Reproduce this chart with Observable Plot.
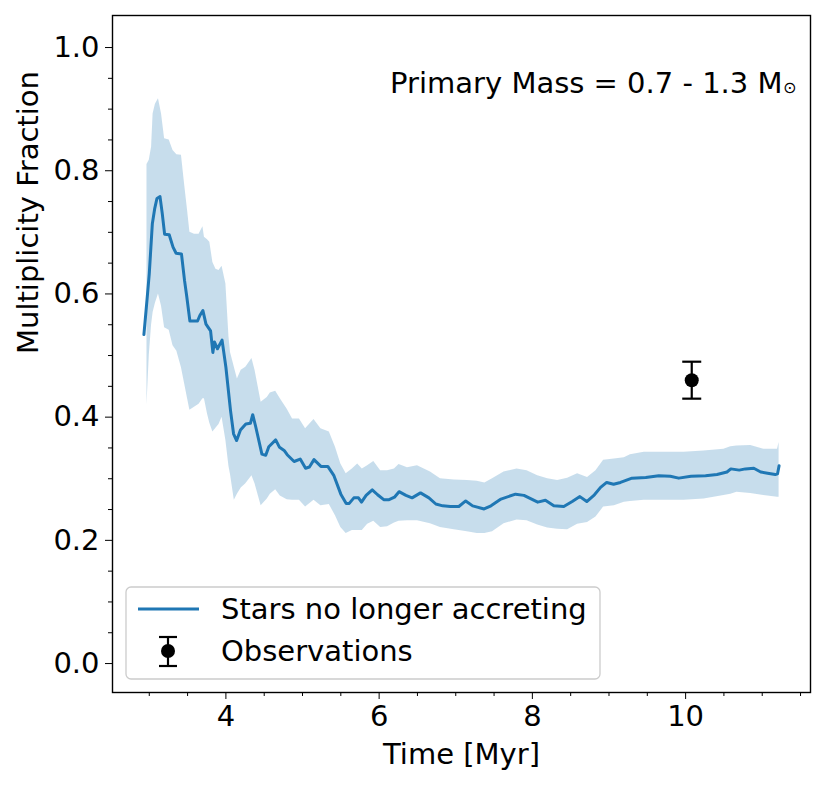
<!DOCTYPE html>
<html>
<head>
<meta charset="utf-8">
<script src="https://cdn.jsdelivr.net/npm/d3@7"></script>
<script src="https://cdn.jsdelivr.net/npm/@observablehq/plot@0.6"></script>
<style>
  html, body { margin: 0; padding: 0; background: #fff; }
  #chart { width: 824px; height: 788px; }
</style>
</head>
<body>
<div id="chart"></div>
<script>
// ---- Data ----
const times = [2.93,2.97,3.00,3.04,3.07,3.10,3.14,3.17,3.20,3.26,3.31,3.35,3.42,3.46,3.49,3.53,3.63,3.66,3.70,3.74,3.80,3.83,3.85,3.89,3.95,4.00,4.06,4.10,4.14,4.19,4.26,4.32,4.35,4.39,4.47,4.52,4.56,4.65,4.70,4.76,4.80,4.89,4.97,5.04,5.09,5.15,5.24,5.33,5.41,5.50,5.57,5.61,5.67,5.73,5.77,5.83,5.91,5.98,6.06,6.13,6.20,6.26,6.35,6.43,6.54,6.65,6.74,6.83,6.93,7.04,7.13,7.22,7.37,7.46,7.59,7.78,7.89,8.07,8.17,8.28,8.41,8.52,8.62,8.71,8.81,8.89,8.97,9.06,9.15,9.30,9.48,9.65,9.80,9.91,10.07,10.26,10.41,10.54,10.59,10.70,10.78,10.89,10.98,11.07,11.17,11.20,11.22];
const meanFraction = [0.534,0.59,0.633,0.714,0.738,0.755,0.758,0.73,0.697,0.696,0.676,0.666,0.665,0.622,0.595,0.556,0.556,0.565,0.573,0.551,0.54,0.505,0.522,0.511,0.525,0.481,0.411,0.373,0.362,0.379,0.389,0.390,0.404,0.384,0.340,0.338,0.352,0.363,0.351,0.346,0.339,0.328,0.332,0.317,0.319,0.331,0.320,0.320,0.305,0.275,0.260,0.260,0.269,0.269,0.262,0.273,0.282,0.274,0.266,0.266,0.270,0.279,0.273,0.269,0.277,0.269,0.259,0.256,0.255,0.255,0.264,0.256,0.251,0.256,0.267,0.275,0.273,0.262,0.265,0.256,0.255,0.263,0.271,0.263,0.274,0.286,0.294,0.291,0.294,0.301,0.302,0.305,0.304,0.301,0.304,0.305,0.307,0.311,0.316,0.314,0.316,0.317,0.311,0.309,0.307,0.308,0.321];

const bandTimes = [2.97,3.00,3.03,3.05,3.08,3.12,3.16,3.20,3.26,3.31,3.36,3.42,3.46,3.50,3.53,3.59,3.65,3.70,3.72,3.76,3.79,3.83,3.87,3.91,3.95,4.00,4.04,4.06,4.11,4.15,4.20,4.26,4.34,4.38,4.46,4.54,4.58,4.65,4.71,4.80,4.87,4.96,5.04,5.15,5.24,5.35,5.43,5.50,5.57,5.65,5.72,5.78,5.85,5.93,6.02,6.11,6.20,6.26,6.37,6.50,6.67,6.80,6.98,7.15,7.28,7.38,7.48,7.63,7.80,7.93,8.07,8.20,8.33,8.46,8.59,8.72,8.83,8.93,9.07,9.20,9.28,9.46,9.72,9.98,10.24,10.50,10.59,10.67,10.85,11.02,11.20,11.22];
const lowerFraction = [0.42,0.50,0.55,0.57,0.585,0.600,0.58,0.545,0.541,0.516,0.507,0.48,0.455,0.43,0.411,0.416,0.421,0.43,0.43,0.405,0.39,0.376,0.382,0.388,0.40,0.362,0.32,0.307,0.265,0.275,0.285,0.292,0.305,0.292,0.256,0.267,0.275,0.282,0.272,0.266,0.265,0.265,0.254,0.265,0.256,0.258,0.24,0.221,0.211,0.216,0.216,0.216,0.226,0.231,0.221,0.222,0.228,0.231,0.232,0.232,0.227,0.221,0.217,0.214,0.211,0.211,0.214,0.227,0.233,0.232,0.225,0.220,0.218,0.217,0.226,0.229,0.238,0.254,0.256,0.262,0.263,0.265,0.265,0.265,0.267,0.273,0.275,0.278,0.276,0.273,0.270,0.270];
const upperFraction = [0.81,0.817,0.838,0.892,0.908,0.917,0.892,0.852,0.850,0.833,0.826,0.825,0.779,0.735,0.70,0.697,0.697,0.709,0.692,0.688,0.684,0.651,0.640,0.638,0.645,0.616,0.53,0.505,0.481,0.462,0.476,0.481,0.495,0.476,0.424,0.432,0.439,0.442,0.430,0.413,0.397,0.397,0.381,0.396,0.381,0.376,0.351,0.324,0.308,0.316,0.324,0.316,0.321,0.328,0.313,0.313,0.316,0.323,0.318,0.321,0.311,0.300,0.298,0.297,0.296,0.293,0.300,0.311,0.316,0.313,0.305,0.300,0.297,0.301,0.308,0.302,0.313,0.330,0.332,0.334,0.339,0.343,0.343,0.343,0.345,0.348,0.352,0.353,0.354,0.348,0.348,0.359];

const obsTime = [10.08];
const obsValue = [0.46];
const obsErr = [0.03];

const xMajorTicks = [4, 6, 8, 10];
const xMinorTicks = [3, 3.5, 4.5, 5, 5.5, 6.5, 7, 7.5, 8.5, 9, 9.5, 10.5, 11, 11.5];
const yMajorTicks = [0, 0.2, 0.4, 0.6, 0.8, 1.0];
const yMinorTicks = [0.05, 0.1, 0.15, 0.25, 0.3, 0.35, 0.45, 0.5, 0.55, 0.65, 0.7, 0.75, 0.85, 0.9, 0.95];

const seriesLabel = "Stars no longer accreting";
const obsLabel = "Observations";
const xTitle = "Time [Myr]";
const yTitle = "Multiplicity Fraction";
const annotation = "Primary Mass = 0.7 - 1.3 M";
const annotationSub = "\u2299";

// ---- Build tables ----
const lineData = times.map((t, i) => ({t, v: meanFraction[i]}));
const bandData = bandTimes.map((t, i) => ({t, lo: lowerFraction[i], hi: upperFraction[i]}));
const obsData = obsTime.map((t, i) => ({t, v: obsValue[i], lo: obsValue[i] - obsErr[i], hi: obsValue[i] + obsErr[i]}));

const C0 = "#1f77b4";
const FONT = "DejaVu Sans, sans-serif";
const FS = 29;

// cap symbol: horizontal line
const capSymbol = {
  draw(context, size) {
    const r = Math.sqrt(size / Math.PI);
    context.moveTo(-r, 0);
    context.lineTo(r, 0);
  }
};

const chart = Plot.plot({
  width: 824,
  height: 788,
  marginLeft: 112,
  marginRight: 14,
  marginTop: 15,
  marginBottom: 96,
  style: {fontFamily: FONT, fontSize: FS + "px", color: "black", background: "white"},
  x: {domain: [2.52, 11.63], label: null},
  y: {domain: [-0.047, 1.052], label: null},
  marks: [
    Plot.areaY(bandData, {x: "t", y1: "lo", y2: "hi", fill: C0, fillOpacity: 0.25}),
    Plot.lineY(lineData, {x: "t", y: "v", stroke: C0, strokeWidth: 3}),
    Plot.ruleX(obsData, {x: "t", y1: "lo", y2: "hi", stroke: "black", strokeWidth: 2.2}),
    Plot.dot(obsData, {x: "t", y: "lo", symbol: capSymbol, r: 9.5, stroke: "black", strokeWidth: 2.2}),
    Plot.dot(obsData, {x: "t", y: "hi", symbol: capSymbol, r: 9.5, stroke: "black", strokeWidth: 2.2}),
    Plot.dot(obsData, {x: "t", y: "v", r: 7, fill: "black", stroke: "none"}),
    Plot.frame({stroke: "black", strokeWidth: 1.4}),
    Plot.axisX({ticks: xMajorTicks, tickSize: 7, tickPadding: 6, tickFormat: d => String(d), label: null, fontSize: FS}),
    Plot.axisX({ticks: xMinorTicks, tickSize: 4, tickFormat: () => "", label: null}),
    Plot.axisY({ticks: yMajorTicks, tickSize: 7, tickPadding: 6, tickFormat: d3.format(".1f"), label: null, fontSize: FS}),
    Plot.axisY({ticks: yMinorTicks, tickSize: 4, tickFormat: () => "", label: null}),
    Plot.text([xTitle], {frameAnchor: "bottom", dy: 71, fontSize: FS, fill: "black"}),
    Plot.text([yTitle], {frameAnchor: "left", dx: -84, rotate: -90, fontSize: FS, fill: "black"}),
    Plot.text([annotation], {frameAnchor: "top-right", dx: -28, dy: 57, textAnchor: "end", fontSize: FS, fill: "black"}),
    Plot.text([annotationSub], {frameAnchor: "top-right", dx: -14, dy: 66, fontSize: 16, fill: "black"})
  ]
});

document.getElementById("chart").appendChild(chart);

// ---- Legend (inside plot area, lower-left) ----
const svg = d3.select(chart);
const lg = svg.append("g").attr("font-family", FONT).attr("font-size", FS).attr("text-anchor", "start");
lg.append("rect").attr("x", 126).attr("y", 587).attr("width", 474).attr("height", 92)
  .attr("rx", 5).attr("fill", "white").attr("fill-opacity", 0.8)
  .attr("stroke", "#cccccc").attr("stroke-width", 1.3);
lg.append("line").attr("x1", 138).attr("x2", 199).attr("y1", 609).attr("y2", 609)
  .attr("stroke", C0).attr("stroke-width", 3);
lg.append("text").attr("x", 221).attr("y", 609).attr("dy", "0.35em").attr("fill", "black").text(seriesLabel);
lg.append("line").attr("x1", 168).attr("x2", 168).attr("y1", 637).attr("y2", 666).attr("stroke", "black").attr("stroke-width", 2.2);
lg.append("line").attr("x1", 159).attr("x2", 177).attr("y1", 637).attr("y2", 637).attr("stroke", "black").attr("stroke-width", 2.2);
lg.append("line").attr("x1", 159).attr("x2", 177).attr("y1", 666).attr("y2", 666).attr("stroke", "black").attr("stroke-width", 2.2);
lg.append("circle").attr("cx", 168).attr("cy", 651).attr("r", 7).attr("fill", "black");
lg.append("text").attr("x", 221).attr("y", 651).attr("dy", "0.35em").attr("fill", "black").text(obsLabel);
</script>
</body>
</html>
